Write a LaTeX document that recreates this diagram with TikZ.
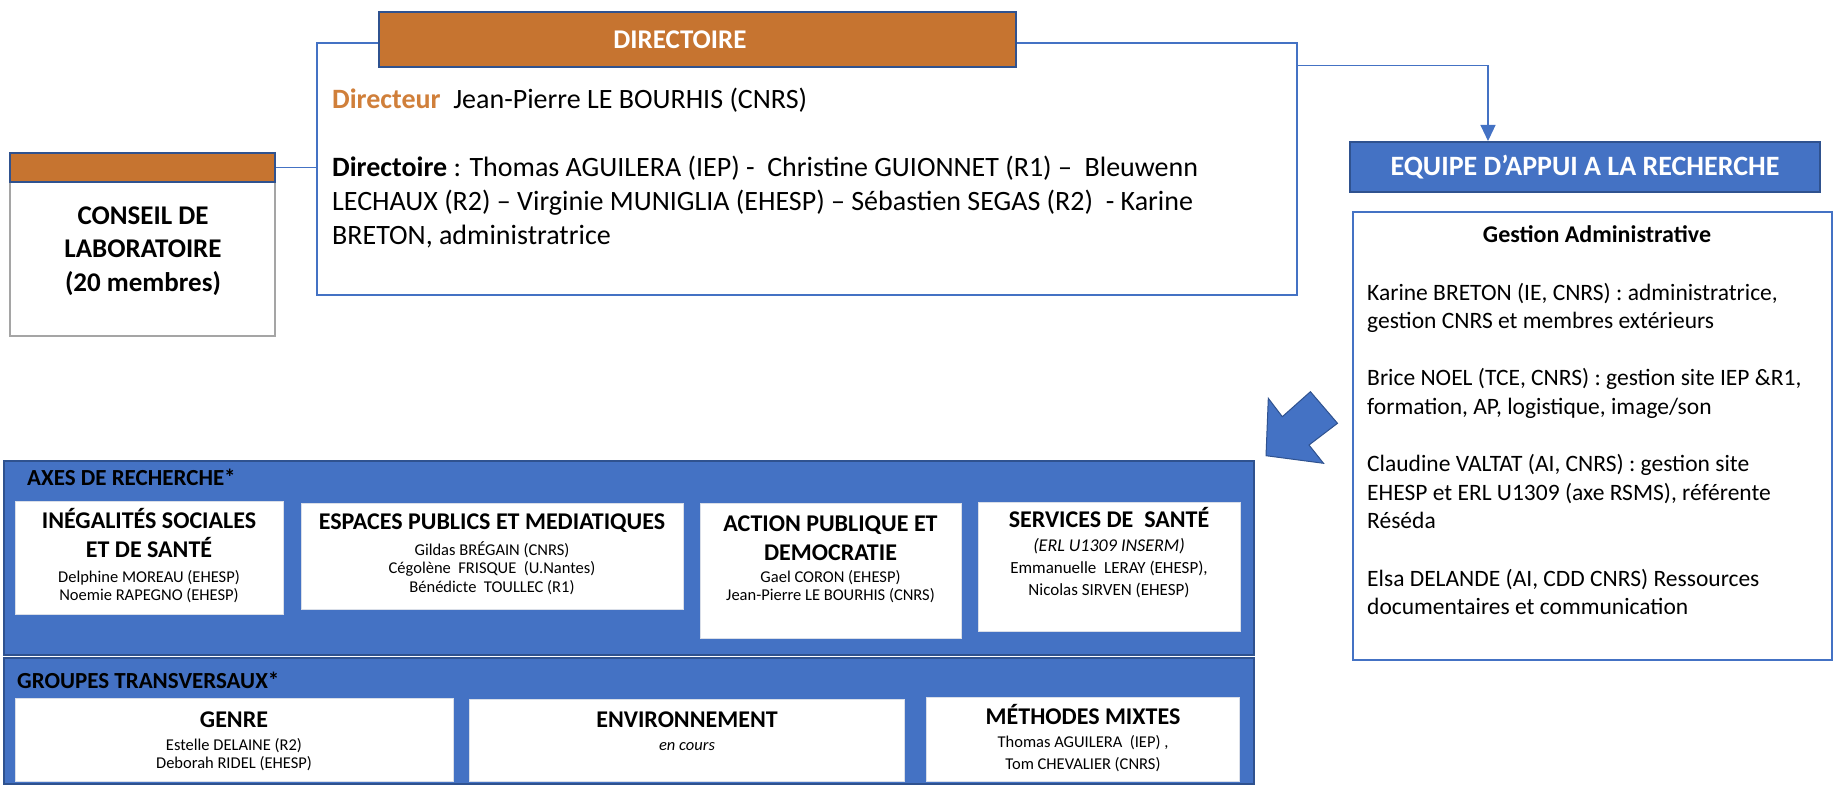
\documentclass[tikz,border=0pt]{standalone}
\usepackage{fontspec}
\setmainfont{Carlito}
\usepackage{xcolor}
\usepackage{tikz}
\usetikzlibrary{arrows.meta}

\definecolor{labblue}{HTML}{4472C4}
\definecolor{labdark}{HTML}{2F528F}
\definecolor{laborange}{HTML}{C67430}
\definecolor{labtext}{HTML}{D07F3A}
\definecolor{labgray}{HTML}{A5A5A5}
\definecolor{labline}{HTML}{D9DEE8}

\begin{document}
\begin{tikzpicture}[x=1pt,y=-1pt]

\tikzstyle{orangebar}=[draw=labdark,fill=laborange,line width=2pt,inner sep=0pt]
\tikzstyle{outline}=[draw=labblue,line width=2.5pt,fill=white,inner sep=0pt]
\tikzstyle{panel}=[draw=labdark,fill=labblue,line width=1.5pt,inner sep=0pt]
\tikzstyle{axisbox}=[draw=labline,fill=white,line width=0.8pt,inner sep=0pt]
\tikzstyle{conn}=[draw=labblue,line width=1.2pt]
\tikzstyle{boxtitle}=[font=\bfseries\fontsize{24}{29}\selectfont,align=center,anchor=base,inner sep=0pt]
\tikzstyle{names}=[font=\fontsize{16.5}{18.5}\selectfont,align=center,anchor=base,inner sep=0pt]
\tikzstyle{heading}=[font=\bfseries\fontsize{23}{27}\selectfont,anchor=base west,inner sep=0pt]

\useasboundingbox (0,0) rectangle (1833,786);

%% Directoire
\node [outline,minimum width=980,minimum height=252] (dirbox) at (807,169) {};
\node [orangebar,minimum width=637,minimum height=55,text=white,font=\bfseries\fontsize{27}{30}\selectfont] (dirhead) at (697,40) {\hspace*{-34pt}DIRECTOIRE};
\node [anchor=base west,inner sep=0pt,font=\fontsize{28}{34}\selectfont] (dirname) at (332,109) {\textcolor{labtext}{\textbf{Directeur}}~ Jean-Pierre LE BOURHIS (CNRS)};
% base anchor sits on the last line
\node [anchor=base west,inner sep=0pt,align=left,font=\fontsize{28}{34}\selectfont] (dirmembers) at (332,245) {\textbf{Directoire} : Thomas AGUILERA (IEP) -~ Christine GUIONNET (R1) –~ Bleuwenn\\LECHAUX (R2) – Virginie MUNIGLIA (EHESP) – Sébastien SEGAS (R2)~ - Karine\\BRETON, administratrice};

%% Conseil de laboratoire
\node [draw=labgray,line width=2pt,fill=white,minimum width=265.6,minimum height=154,inner sep=0pt] (conseil) at (142.6,259) {};
\node [orangebar,minimum width=265.6,minimum height=29.3] (conseilhead) at (142.6,167.4) {};
\node [font=\bfseries\fontsize{27}{33.5}\selectfont,align=center,anchor=base,inner sep=0pt] (conseiltext) at (143,291) {CONSEIL DE\\LABORATOIRE\\(20 membres)};
\draw [conn] (conseilhead.east) -- (conseilhead.east -| dirbox.west);

%% Equipe d'appui
\node [panel,line width=2pt,minimum width=470,minimum height=50,text=white,font=\bfseries\fontsize{28}{32}\selectfont] (equipe) at (1585,167) {EQUIPE D’APPUI A LA RECHERCHE};
\draw [conn,-{Triangle[width=15pt,length=16pt]}] ([yshift=-24pt]dirbox.north east) -| ([xshift=-97pt]equipe.north);

\node [outline,line width=2pt,minimum width=479,minimum height=448] (gestion) at (1592,436) {};
\node [font=\bfseries\fontsize{24}{28}\selectfont,anchor=base,inner sep=0pt] (gestiontitle) at (1597,243) {Gestion Administrative};
\node [font=\fontsize{23.5}{28.6}\selectfont,align=left,anchor=base west,inner sep=0pt] (gestionstaff) at (1367,614.6) {Karine BRETON (IE, CNRS) : administratrice,\\gestion CNRS et membres extérieurs\\[28.6pt]Brice NOEL (TCE, CNRS) : gestion site IEP \&R1,\\formation, AP, logistique, image/son\\[28.6pt]Claudine VALTAT (AI, CNRS) : gestion site\\EHESP et ERL U1309 (axe RSMS), référente\\Réséda\\[28.6pt]Elsa DELANDE (AI, CDD CNRS) Ressources\\documentaires et communication};

%% big arrow
\filldraw [fill=labblue,draw=labdark,line width=1pt] (1310.4,391.7) -- (1337.5,423.3) -- (1309,445) -- (1323.5,463.3) -- (1266,455.7) -- (1268.3,398.3) -- (1282.3,416.7) -- cycle;

%% Axes de recherche
\node [panel,minimum width=1250,minimum height=194] (axes) at (629,558) {};
\node [heading] (axestitle) at (27,485) {AXES DE RECHERCHE*};

\node [axisbox,minimum width=268,minimum height=113] (ineg) at (149,557.4) {};
\node [boxtitle] (inegtitle) at (149,557) {INÉGALITÉS SOCIALES\\ET DE SANTÉ};
\node [names] (inegnames) at (149,600.5) {Delphine MOREAU (EHESP)\\Noemie RAPEGNO (EHESP)};

\node [axisbox,minimum width=382,minimum height=106] (espaces) at (492,556) {};
\node [boxtitle] (espacestitle) at (492,529) {ESPACES PUBLICS ET MEDIATIQUES};
\node [names] (espacesnames) at (492,592) {Gildas BRÉGAIN (CNRS)\\Cégolène~ FRISQUE~ (U.Nantes)\\Bénédicte~ TOULLEC (R1)};

\node [axisbox,minimum width=261,minimum height=135] (action) at (830.5,570.5) {};
\node [boxtitle] (actiontitle) at (830.5,560) {ACTION PUBLIQUE ET\\DEMOCRATIE};
\node [names] (actionnames) at (830.5,600.5) {Gael CORON (EHESP)\\Jean-Pierre LE BOURHIS (CNRS)};

\node [axisbox,minimum width=262,minimum height=129] (services) at (1109,566.5) {};
\node [boxtitle] (servicestitle) at (1109,527) {SERVICES DE~ SANTÉ};
\node [boxtitle,font=\itshape\fontsize{18}{22}\selectfont] (serviceserl) at (1109,551) {(ERL U1309 INSERM)};
\node [names,font=\fontsize{17}{22}\selectfont] (servicesnames) at (1109,595) {Emmanuelle~ LERAY (EHESP),\\Nicolas SIRVEN (EHESP)};

%% Groupes transversaux
\node [panel,minimum width=1250,minimum height=126] (groupes) at (629,721) {};
\node [heading] (groupestitle) at (17,688) {GROUPES TRANSVERSAUX*};

\node [axisbox,minimum width=438,minimum height=83] (genre) at (234,739.5) {};
\node [boxtitle] (genretitle) at (234,727) {GENRE};
\node [names] (genrenames) at (234,768.5) {Estelle DELAINE (R2)\\Deborah RIDEL (EHESP)};

\node [axisbox,minimum width=435,minimum height=82] (envir) at (687,740) {};
\node [boxtitle] (envirtitle) at (687,727) {ENVIRONNEMENT};
\node [names,font=\itshape\fontsize{16.5}{18.5}\selectfont] (envirnames) at (687,750) {en cours};

\node [axisbox,minimum width=313,minimum height=84] (methodes) at (1083,739) {};
\node [boxtitle] (methodestitle) at (1083,724) {MÉTHODES MIXTES};
\node [names,font=\fontsize{16.5}{22}\selectfont] (methodesnames) at (1083,769) {Thomas AGUILERA~ (IEP) ,\\Tom CHEVALIER (CNRS)};

\end{tikzpicture}
\end{document}
